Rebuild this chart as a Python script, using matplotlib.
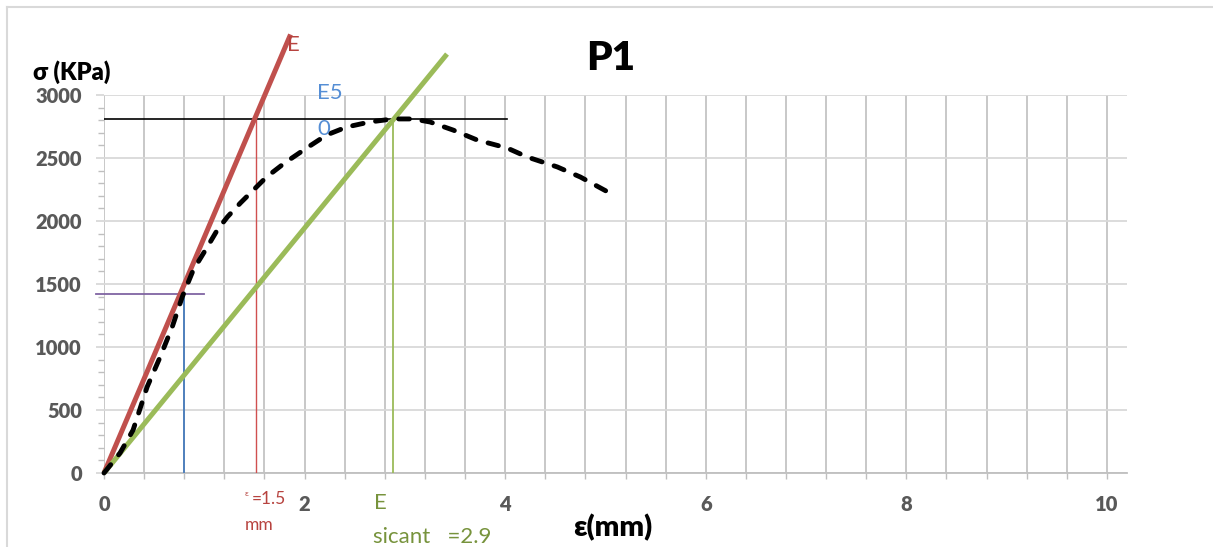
import numpy as np
import matplotlib
matplotlib.use("Agg")
import matplotlib.pyplot as plt
from matplotlib.lines import Line2D
from matplotlib.ticker import MultipleLocator, FuncFormatter

# ---------------- data ----------------
strain = [0.0, 0.16, 0.29, 0.43, 0.56, 0.68, 0.78, 0.89, 1.03, 1.13, 1.23, 1.36,
          1.49, 1.62, 1.80, 2.02, 2.22, 2.42, 2.65, 2.88, 3.08, 3.25, 3.48, 3.72,
          4.02, 4.22, 4.52, 4.75, 5.08]
stress = [0, 159, 341, 683, 921, 1159, 1397, 1611, 1794, 1929, 2032, 2143,
          2246, 2349, 2460, 2579, 2683, 2746, 2786, 2810, 2810, 2786, 2722, 2643,
          2579, 2508, 2429, 2349, 2206]

E_line_x = [0, 1.86]
E_line_y = [0, 3480]
Esec_line_x = [0, 3.42]
Esec_line_y = [0, 3325]

peak_x = [0, 4.02]          # horizontal line at peak stress
peak_y = [2812, 2812]
half_x = [-0.08, 1.0]       # horizontal line at half stress
half_y = [1420, 1420]
e50_x = [0.8, 0.8]
e50_y = [0, 1420]
e15_x = [1.52, 1.52]
e15_y = [0, 2800]
esec_x = [2.88, 2.88]
esec_y = [0, 2800]

x_ticks = [0, 2, 4, 6, 8, 10]
y_ticks = [0, 500, 1000, 1500, 2000, 2500, 3000]

W, H = 1213, 547
plt.rcParams['font.family'] = ['Lato', 'DejaVu Sans']

fig = plt.figure(figsize=(W / 100, H / 100), dpi=100)
L, R, B, T = 104, 1127, 473, 95
ax = fig.add_axes([L / W, 1 - B / H, (R - L) / W, (B - T) / H])

def px(x, y):
    return x / W, 1 - y / H

ax.set_xlim(0, 10.2)
ax.set_ylim(0, 3000)

# grid
ax.xaxis.set_minor_locator(MultipleLocator(0.4))
ax.yaxis.set_minor_locator(MultipleLocator(100))
ax.set_xticks(x_ticks)
ax.set_yticks(y_ticks)
ax.grid(which='minor', axis='x', color='#c4c4c4', lw=1.3)
ax.grid(which='major', axis='x', color='#c4c4c4', lw=1.3)
ax.grid(which='major', axis='y', color='#d9d9d9', lw=1.3)
ax.set_axisbelow(True)

for s in ['top', 'right', 'left']:
    ax.spines[s].set_visible(False)
ax.spines['bottom'].set_color('#bfbfbf')
ax.spines['bottom'].set_linewidth(1.3)

ax.tick_params(axis='x', which='both', direction='out', length=4, color='#bfbfbf',
               width=1, pad=12, labelsize=14.5, labelcolor='#595959')
ax.tick_params(axis='y', which='major', direction='out', length=6, color='#d9d9d9',
               width=1.3, pad=10, labelsize=14.5, labelcolor='#595959')
ax.tick_params(axis='y', which='minor', direction='out', length=4, color='#bfbfbf',
               width=1)
for lab in ax.get_xticklabels() + ax.get_yticklabels():
    lab.set_fontweight('heavy')
ax.tick_params(axis='y', which='minor', labelleft=False)
ax.xaxis.set_minor_formatter(FuncFormatter(lambda v, p: ''))

# thin helper lines
ax.plot(peak_x, peak_y, color='black', lw=1.2, zorder=3)
ax.plot(half_x, half_y, color='#8064a2', lw=1.3, zorder=3, clip_on=False)
ax.plot(e50_x, e50_y, color='#4f81bd', lw=1.4, zorder=3)
ax.plot(e15_x, e15_y, color='#d05050', lw=1.0, zorder=3)
ax.plot(esec_x, esec_y, color='#9bbb59', lw=1.3, zorder=3)

# modulus lines
ax.plot(E_line_x, E_line_y, color='#c0504d', lw=3.6, zorder=4, clip_on=False,
        solid_capstyle='butt')
ax.plot(Esec_line_x, Esec_line_y, color='#9bbb59', lw=3.6, zorder=4, clip_on=False,
        solid_capstyle='butt')

# stress-strain curve
ln, = ax.plot(strain, stress, color='black', lw=3.5, zorder=5, clip_on=False,
              dash_capstyle='round', solid_joinstyle='round')
ln.set_dashes((2.2, 2.6))

# texts
fig.text(*px(611, 58), 'P1', fontsize=29, fontweight='heavy', ha='center', va='center')
fig.text(*px(33, 72), 'σ (KPa)', fontsize=17, fontweight='heavy', ha='left', va='center')
fig.text(*px(613, 528), 'ε(mm)', fontsize=21, fontweight='heavy', ha='center', va='center')

fig.text(*px(287, 45), 'E', fontsize=16, color='#b7433f', ha='left', va='center')
fig.text(*px(317, 93), 'E5', fontsize=16, color='#558ed5', ha='left', va='center')
fig.text(*px(317, 129), '0', fontsize=16, color='#558ed5', ha='left', va='center')

fig.text(*px(245, 494), 'ε', fontsize=6, color='#b7433f', ha='left', va='center')
fig.text(*px(252, 499), '=1.5', fontsize=12.5, color='#b7433f', ha='left', va='center')
fig.text(*px(245, 525), 'mm', fontsize=12.5, color='#b7433f', ha='left', va='center')

fig.text(*px(374, 503), 'E', fontsize=16, color='#77933c', ha='left', va='center')
fig.text(*px(373, 543), 'sicant   =2.9', fontsize=16, color='#77933c', ha='left',
         va='baseline')

# outer frame
fig.add_artist(Line2D([7 / W, 1], [1 - 7 / H, 1 - 7 / H], color='#d9d9d9', lw=1.5))
fig.add_artist(Line2D([7 / W, 7 / W], [0, 1 - 7 / H], color='#d9d9d9', lw=1.5))

fig.savefig('out.png', dpi=100)
